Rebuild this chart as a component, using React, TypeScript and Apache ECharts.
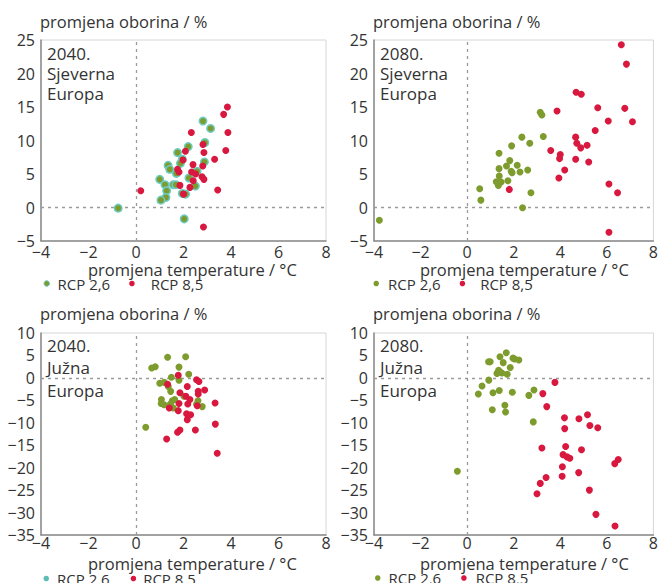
import React, { useEffect, useRef } from "react";
import * as echarts from "echarts";

// ---- data ----
const xTicks = [-4, -2, 0, 2, 4, 6, 8];
const yTicksNorth = [-5, 0, 5, 10, 15, 20, 25];
const yTicksSouth = [-35, -30, -25, -20, -15, -10, -5, 0, 5, 10];
const seriesNames = ["RCP 2,6", "RCP 8,5"];
const panelLabels = ["2040.\nSjeverna\nEuropa", "2080.\nSjeverna\nEuropa", "2040.\nJužna\nEuropa", "2080.\nJužna\nEuropa"];
const yTitle = "promjena oborina / %";
const xTitle = "promjena temperature / °C";

const north2040Rcp26 = [
  [-0.75, -0.1], [2.82, 12.9], [3.14, 11.8], [2.9, 9.7], [2.2, 9.1], [1.75, 8.2], [1.95, 7.2], [1.87, 6.6],
  [2.88, 6.8], [1.35, 6.3], [1.42, 5.7], [1.7, 5.1], [2.57, 5.4], [2.23, 4.4], [1.0, 4.2], [1.22, 3.4],
  [1.57, 3.4], [1.68, 3.4], [2.5, 3.2], [1.29, 2.5], [1.26, 1.5], [1.05, 1.1], [1.95, 2.1], [2.09, 2.0], [2.03, -1.7],
];
const north2040Rcp85 = [
  [3.85, 15.0], [3.69, 13.9], [3.87, 11.2], [2.33, 11.2], [2.82, 9.4], [2.86, 8.2], [3.78, 8.5], [2.08, 8.4],
  [3.31, 7.2], [1.98, 7.1], [2.4, 6.4], [2.81, 6.2], [1.75, 5.7], [1.81, 5.3], [2.34, 5.3], [2.51, 5.0],
  [2.78, 4.6], [2.86, 4.2], [2.41, 4.0], [1.85, 3.3], [2.27, 3.0], [3.44, 2.6], [0.2, 2.5], [2.0, 2.0], [2.84, -2.9],
];
const north2080Rcp26 = [
  [3.14, 14.2], [3.21, 13.8], [2.35, 10.5], [3.27, 10.6], [2.69, 9.6], [1.91, 9.2], [1.37, 8.1], [1.83, 7.0],
  [1.69, 6.2], [2.15, 6.3], [1.37, 5.8], [1.89, 5.4], [1.93, 5.2], [2.27, 5.3], [2.6, 5.6], [1.38, 4.7],
  [1.75, 4.0], [1.25, 3.85], [1.46, 3.8], [1.34, 3.3], [0.54, 2.8], [0.59, 1.1], [2.74, 2.2], [2.38, -0.05], [-3.77, -1.9],
];
const north2080Rcp85 = [
  [6.62, 24.3], [6.84, 21.4], [4.68, 17.2], [4.9, 16.9], [3.86, 14.4], [5.61, 14.9], [6.77, 14.8], [6.06, 12.9],
  [7.1, 12.8], [5.5, 11.5], [4.66, 10.5], [4.71, 9.6], [5.15, 9.3], [4.88, 8.9], [3.59, 8.5], [4.0, 7.9],
  [3.97, 7.3], [4.66, 7.2], [5.22, 6.8], [4.19, 5.6], [3.94, 4.4], [1.81, 2.7], [6.09, 3.5], [6.46, 2.2], [6.09, -3.7],
];
const south2040Rcp26 = [
  [1.33, 4.6], [2.09, 4.7], [0.66, 2.2], [0.81, 2.5], [1.81, 2.4], [2.22, 0.8], [1.49, 0.15], [1.81, -0.5],
  [1.0, -1.2], [1.19, -1.0], [1.36, -1.9], [1.46, -3.0], [2.02, -4.1], [1.07, -4.8], [1.53, -5.1], [1.63, -4.8],
  [2.61, -5.1], [1.06, -5.7], [1.18, -6.0], [1.45, -5.8], [1.57, -6.7], [2.55, -5.9], [2.79, -6.4], [0.41, -11.0],
];
const south2040Rcp85 = [
  [1.78, 0.6], [1.33, -1.4], [2.55, -0.4], [2.65, -0.8], [2.16, -1.9], [2.89, -2.7], [2.62, -3.0], [2.62, -3.6],
  [1.85, -3.3], [2.1, -4.1], [2.27, -4.8], [2.18, -5.8], [1.81, -5.7], [3.33, -5.6], [2.58, -6.2], [1.4, -6.7],
  [1.78, -7.3], [2.13, -8.0], [2.3, -8.2], [2.16, -9.3], [3.34, -10.3], [1.85, -11.6], [1.75, -12.1], [2.5, -11.6],
  [1.29, -13.6], [3.42, -16.8],
];
const south2080Rcp26 = [
  [1.68, 5.6], [1.41, 4.7], [1.97, 4.4], [2.04, 4.2], [2.22, 4.0], [0.92, 3.6], [0.99, 3.6], [1.55, 3.4],
  [1.85, 2.3], [1.35, 1.7], [1.41, 1.3], [1.28, 1.0], [1.49, 1.1], [1.72, 0.8], [0.93, -0.5], [0.64, -1.8],
  [1.38, -2.8], [2.87, -2.7], [1.94, -3.2], [1.11, -3.3], [0.48, -3.6], [2.65, -3.9], [1.62, -6.1], [1.08, -7.1],
  [1.65, -7.6], [2.84, -9.8], [-0.42, -20.8],
];
const south2080Rcp85 = [
  [3.77, -1.0], [3.25, -3.5], [3.42, -6.4], [5.17, -8.2], [4.18, -8.9], [4.8, -9.1], [5.27, -10.6], [5.61, -11.1],
  [4.19, -11.3], [3.21, -15.6], [4.23, -15.3], [4.91, -16.0], [4.12, -17.1], [4.29, -17.6], [4.41, -17.9],
  [6.49, -18.2], [6.34, -19.1], [4.09, -19.8], [4.79, -21.1], [4.08, -21.9], [3.39, -22.2], [3.14, -23.5],
  [3.0, -25.8], [5.25, -25.0], [5.53, -30.4], [6.35, -33.0],
];

const GREEN = "#7e9c2e";
const RED = "#d8183e";
const TEAL = "#6ccbc2";
const FONT = "'Open Sans', 'Noto Sans', sans-serif";
const TXT = "#333333";

const fmt = (v: number) => (v < 0 ? "\u2212" + Math.abs(v) : String(v));

export default function App() {
  const ref = useRef<HTMLDivElement>(null);
  useEffect(() => {
    if (!ref.current) return;
    const chart = echarts.init(ref.current, undefined, { renderer: "svg" });

    const grids = [
      { left: 41, top: 40, width: 285, height: 201 },
      { left: 374, top: 40, width: 284, height: 201 },
      { left: 41, top: 333, width: 285, height: 202 },
      { left: 374, top: 333, width: 285, height: 202 },
    ];
    const yRanges = [yTicksNorth, yTicksNorth, yTicksSouth, yTicksSouth];
    const panelData = [
      [north2040Rcp26, north2040Rcp85],
      [north2080Rcp26, north2080Rcp85],
      [south2040Rcp26, south2040Rcp85],
      [south2080Rcp26, south2080Rcp85],
    ];

    const axisLine = { show: true, onZero: false, lineStyle: { color: "#8a8a8a", width: 1.5 } };

    const xAxis = grids.map((_, i) => ({
      type: "value",
      gridIndex: i,
      min: xTicks[0],
      max: xTicks[xTicks.length - 1],
      interval: xTicks[1] - xTicks[0],
      axisLine,
      axisTick: { show: false },
      splitLine: { show: false },
      axisLabel: { fontSize: 16, lineHeight: 14, color: TXT, fontFamily: FONT, margin: i < 2 ? 4 : 1, formatter: fmt },
    }));
    const yAxis = grids.map((_, i) => ({
      type: "value",
      gridIndex: i,
      min: yRanges[i][0],
      max: yRanges[i][yRanges[i].length - 1],
      interval: yRanges[i][1] - yRanges[i][0],
      axisLine,
      axisTick: { show: false },
      splitLine: { show: false },
      axisLabel: { fontSize: 16, color: TXT, fontFamily: FONT, margin: 6, formatter: fmt, padding: i < 2 ? [6, 0, 0, 0] : [2, 0, 0, 0] },
    }));

    const series: any[] = [];
    panelData.forEach((pair, i) => {
      series.push({
        type: "scatter",
        name: seriesNames[0],
        xAxisIndex: i,
        yAxisIndex: i,
        data: pair[0],
        symbolSize: i === 0 ? 7.5 : 7,
        z: 3,
        itemStyle: i === 0 ? { color: GREEN, borderColor: TEAL, borderWidth: 1.5, opacity: 1 } : { color: GREEN, opacity: 1 },
        markLine: {
          silent: true,
          z: 1,
          symbol: ["none", "none"],
          label: { show: false },
          lineStyle: { type: [3, 4], color: "#9a9a9a", width: 1.3 },
          data: [{ xAxis: 0 }, { yAxis: 0 }],
        },
      });
      series.push({
        type: "scatter",
        name: seriesNames[1],
        xAxisIndex: i,
        yAxisIndex: i,
        data: pair[1],
        symbolSize: 7,
        z: 4,
        itemStyle: { color: RED, opacity: 1 },
      });
    });

    const legendIcon = [
      { color: GREEN, borderColor: TEAL, borderWidth: 1 },
      { color: GREEN, borderWidth: 0, borderColor: GREEN },
      { color: "#5fbdb4", borderWidth: 0, borderColor: "#5fbdb4" },
      { color: GREEN, borderWidth: 0, borderColor: GREEN },
    ];
    const legendPos = [
      { left: 43.5, top: 276, gap: 19, pads: [3, 11] },
      { left: 373.5, top: 276, gap: 19, pads: [4, 10] },
      { left: 43.5, top: 571, gap: 21, pads: [3, 2] },
      { left: 375, top: 570.5, gap: 20, pads: [3, 4] },
    ];
    const legend = legendPos.map((p, i) => ({
      left: p.left,
      top: p.top,
      padding: 0,
      itemGap: p.gap,
      itemWidth: 5.5,
      itemHeight: 5.5,
      icon: "circle",
      selectedMode: false,
      textStyle: { fontSize: 15, lineHeight: 13, color: TXT, fontFamily: FONT },
      data: [
        { name: seriesNames[0], itemStyle: legendIcon[i], textStyle: { padding: [0, 0, 0, p.pads[0]] } },
        { name: seriesNames[1], itemStyle: { color: RED, borderWidth: 0, borderColor: RED }, textStyle: { padding: [0, 0, 0, p.pads[1]] } },
      ],
    }));

    const graphic: any[] = [];
    grids.forEach((g, i) => {
      const top = i < 2;
      graphic.push({
        type: "text",
        left: g.left - 1,
        top: top ? 13 : 305,
        style: { text: yTitle, fontSize: 16.5, fill: TXT, fontFamily: FONT },
      });
      graphic.push({
        type: "text",
        left: i % 2 === 0 ? 88 : 420,
        top: top ? 261 : 555,
        style: { text: xTitle, fontSize: 16.5, lineHeight: 13, fill: TXT, fontFamily: FONT },
      });
      graphic.push({
        type: "text",
        left: g.left + 6,
        top: top ? 43 : 334,
        style: {
          text: panelLabels[i],
          fontSize: 17,
          lineHeight: top ? 20 : 22.5,
          fill: TXT,
          fontFamily: FONT,
        },
      });
    });

    chart.setOption({
      animation: false,
      backgroundColor: "#ffffff",
      textStyle: { fontFamily: FONT },
      grid: grids.map((g) => ({ ...g, show: true, borderColor: "#d6d6d6", borderWidth: 1, backgroundColor: "#ffffff" })),
      xAxis,
      yAxis,
      legend,
      series,
      graphic,
    });
    return () => chart.dispose();
  }, []);

  return <div ref={ref} style={{ position: "absolute", left: 0, top: 0, width: 661, height: 583 }} />;
}
